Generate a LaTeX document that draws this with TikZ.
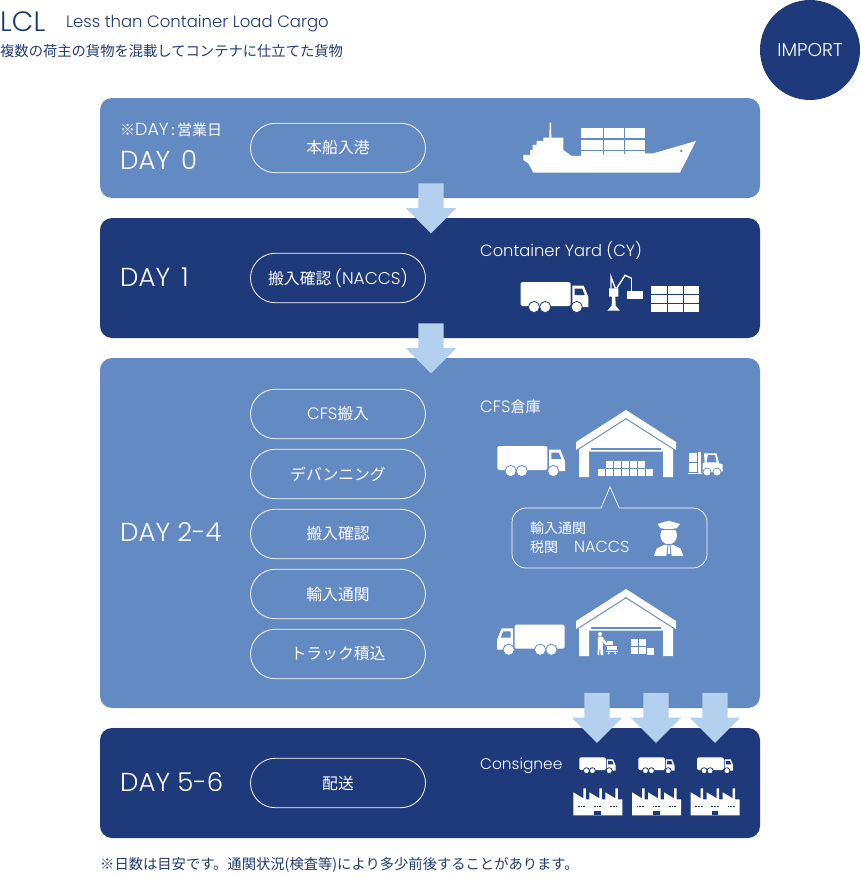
\documentclass[tikz,border=0pt]{standalone}
\usepackage{fontspec}
\setmainfont{Noto Sans CJK JP}
\newfontfamily\latfont{Poppins}[UprightFont=* Light]
\usetikzlibrary{shapes.arrows}
\definecolor{midblue}{HTML}{648AC4}
\definecolor{navyband}{HTML}{1E3A7A}
\definecolor{paleblue}{HTML}{B3D0EE}
\definecolor{titleblue}{HTML}{1F3A73}
\newcommand{\fs}[1]{\fontsize{#1}{#1}\selectfont}
\newcommand{\lat}[2]{{\fs{#1}\latfont #2}}
\tikzset{
  panel/.style={fill=#1,rounded corners=12,minimum width=660,inner sep=0},
  pill/.style={draw=white,line width=.8,rounded corners=24.9,minimum width=175,minimum height=49.5,inner sep=0,text=white,font=\fs{15.8}},
  lbl/.style={inner sep=0,anchor=west,text=white},
  daylbl/.style={lbl,font=\fs{26}\latfont},
  blockarrow/.style={single arrow,fill=paleblue,inner sep=12.5,shape border rotate=270,minimum width=50,minimum height=50,single arrow head extend=12.5,single arrow tip angle=90},
  pics/truck/.style={code={
    \fill[white,rounded corners=1.5] (0,0) rectangle (50,24);
    \fill[white] (51.7,3.7) -- (63,3.7) -- (67.7,15) -- (67.7,25) -- (51.7,25) -- cycle;
    \fill[#1] (54,6.7) -- (61.5,6.7) -- (64,13) -- (54,13) -- cycle;
    \filldraw[white,draw=#1,line width=.8] (13.3,25) circle[radius=5.6];
    \filldraw[white,draw=#1,line width=.8] (24.5,25) circle[radius=5.6];
    \filldraw[white,draw=#1,line width=.8] (56,25) circle[radius=5.6];
  }},
  pics/warehouse/.style={code={
    \fill[white] (0,0) -- (50,32) -- (50,40) -- (0,8) -- (-50,40) -- (-50,32) -- cycle;
    \fill[white] (0,9.5) -- (47,39.5) -- (47,67) -- (37,67) -- (37,41.5) -- (-37,41.5) -- (-37,67) -- (-47,67) -- (-47,39.5) -- cycle;
    \fill[midblue] (-35,38) rectangle (35,39.5);
  }},
  pics/factory/.style={code={
    \fill[white] (0,4) -- (10,10) -- (10,0) -- (12.5,0) -- (12.5,11) -- (16,11) -- (16,4) -- (26,10) -- (26,0) -- (28.5,0) -- (28.5,11) -- (32,11) -- (32,4) -- (42,10) -- (42,0) -- (44.5,0) -- (44.5,11) -- (49,11) -- (49,27) -- (0,27) -- cycle;
    \fill[navyband] (21,22.5) rectangle (27.5,27);
    \foreach \wx in {4.5,7.2,9.9,20.5,23.2,25.9,36.8,39.5,42.2}
      \fill[navyband] (\wx,17.2) rectangle ++(1.9,1.9);
  }},
}
\begin{document}
\begin{tikzpicture}[x=1pt,y=-1pt]
  \useasboundingbox (0,0) rectangle (860,878);

  % headings
  \node[lbl,text=titleblue,font=\fs{28}\latfont] (lcl) at (0,22) {LCL};
  \node[lbl,text=titleblue,font=\fs{16.5}\latfont] (lclfull) at (66,24) {Less than Container Load Cargo};
  \node[lbl,text=titleblue,font=\fs{14.3}] (lcljp) at (0,51) {複数の荷主の貨物を混載してコンテナに仕立てた貨物};
  \node[circle,fill=navyband,minimum size=100,inner sep=0,text=white,font=\fs{18.5}\latfont] (importbadge) at (810,50) {IMPORT};

  % bands
  \node[panel=midblue,minimum height=100] (day0) at (430,148) {};
  \node[panel=navyband,minimum height=120] (day1) at (430,278) {};
  \node[panel=midblue,minimum height=350] (day24) at (430,533) {};
  \node[panel=navyband,minimum height=110] (day56) at (430,783) {};

  % block arrows
  \node[blockarrow] (arrow0) at (431,202) {};
  \node[blockarrow] (arrow1) at (431,342) {};
  \node[blockarrow] (arrow2a) at (597,711.5) {};
  \node[blockarrow] (arrow2b) at (656,711.5) {};
  \node[blockarrow] (arrow2c) at (715,711.5) {};

  % day labels
  \node[lbl,font=\fs{15}] (dayn) at (120,130) {※\lat{17.5}{DAY}\hspace{2pt}:\hspace{2pt}営業日};
  \node[daylbl] (d0) at (120,160) {DAY\hspace{11pt}0};
  \node[daylbl] (d1) at (120,277) {DAY\hspace{11pt}1};
  \node[daylbl] (d24) at (120,532) {DAY 2-4};
  \node[daylbl] (d56) at (120,782) {DAY 5-6};

  % steps
  \node[pill] (berth) at (338,148) {本船入港};
  \node[pill] (naccs) at (338,278) {搬入確認 \lat{17}{(NACCS)}};
  \node[pill] (cfsin) at (338,414) {\lat{16.5}{CFS}搬入};
  \node[pill] (devan) at (338,474) {デバンニング};
  \node[pill] (check) at (338,534) {搬入確認};
  \node[pill] (clear) at (338,594) {輸入通関};
  \node[pill] (load) at (338,654) {トラック積込};
  \node[pill] (deliver) at (338,783) {配送};

  % place labels
  \node[lbl,font=\fs{16.3}\latfont] (cy) at (480,250) {Container Yard (CY)};
  \node[lbl,font=\fs{15}] (cfs) at (480,407) {\lat{16.5}{CFS}倉庫};
  \node[lbl,font=\fs{15.4}\latfont] (consignee) at (480,766) {Consignee};
  \node[lbl,font=\fs{14}] (clearjp) at (530,528) {輸入通関};
  \node[lbl,font=\fs{14}] (customs) at (530,547) {税関\hspace{16pt}\lat{16}{NACCS}};
  \node[lbl,text=titleblue,font=\fs{14.3}] (note) at (100,865) {※日数は目安です。通関状況(検査等)により多少前後することがあります。};

  % speech bubble
  \draw[white,line width=.7] (601,508) -- (610,487) -- (619.3,508) [rounded corners=14] -- (707,508) -- (707,568) -- (512,568) -- (512,508) -- (601,508);

  % ship
  \begin{scope}[shift={(480,100)},x=.3333pt,y=-.3333pt]
    \fill[white] (209,68) -- (213,68) -- (214,113) -- (250,113) -- (250,150) -- (275,168) -- (303,168) -- (495,160) -- (520,160) -- (648,123) -- (600,218) -- (160,218) -- (145,190) -- (130,180) -- (130,165) -- (150,165) -- (150,150) -- (158,150) -- (158,135) -- (170,135) -- (170,123) -- (190,123) -- (190,113) -- (208,113) -- cycle;
    \foreach \cx/\cw in {304/64,371/60,434/61}
      \foreach \cy/\ch in {83/32,119/31,153/14}
        \fill[white] (\cx,\cy) rectangle ++(\cw,\ch);
    \fill[midblue] (604,153) circle[radius=4];
  \end{scope}

  % container yard
  \pic at (520.7,282) {truck=navyband};
  \begin{scope}[shift={(600,265)},x=.3333pt,y=-.3333pt]
    \fill[white] (22,137) -- (60,137) -- (47,122) -- (46,95) -- (55,95) -- (55,70) -- (27,70) -- (27,95) -- (36,95) -- (35,122) -- cycle;
    \draw[white,line width=1.4] (33,70) -- (33,36) -- (46,70);
    \draw[white,line width=1.4] (50,70) -- (75,31) -- (95,40);
    \draw[white,line width=.7] (93,38) -- (93,78);
    \fill[white] (82,78) rectangle (130,102);
    \foreach \cx in {153,203,251}
      \foreach \cy in {62,90,117}
        \fill[white] (\cx,\cy) rectangle ++(47,25);
  \end{scope}

  % cfs warehouse, inbound
  \pic at (497.3,446) {truck=midblue};
  \pic at (626,410) {warehouse};
  \foreach \bx in {606,614,622,630,638}
    \fill[white] (\bx,461) rectangle ++(7.2,7.2);
  \foreach \bx in {598,606,614,622,630,638,646}
    \fill[white] (\bx,469) rectangle ++(7.2,7.2);
  \begin{scope}[shift={(570,405)},x=.3333pt,y=-.3333pt]
    \fill[white] (358,145) rectangle (382,172);
    \fill[white] (358,175) rectangle (382,200);
    \fill[white] (385,140) rectangle (392,203);
    \fill[white] (355,203) rectangle (395,207);
    \fill[white] (402,145) -- (440,145) -- (447,175) -- (458,178) -- (458,200) -- (398,203) -- (398,175) -- (404,172) -- cycle;
    \fill[midblue] (414,150) -- (435,150) -- (440,172) -- (410,172) -- cycle;
    \filldraw[white,draw=midblue,line width=.7] (411,201) circle[radius=12];
    \filldraw[white,draw=midblue,line width=.7] (441,201) circle[radius=12];
  \end{scope}

  % officer
  \begin{scope}[shift={(480,390)},x=.3333pt,y=-.3333pt]
    \fill[white] (533,402) -- (566,392) -- (600,402) -- (590,415) -- (542,415) -- cycle;
    \fill[white] (566,436) ellipse[x radius=25,y radius=27];
    \fill[white] (522,498) -- (530,476) -- (552,465) -- (580,465) -- (602,476) -- (610,498) -- cycle;
    \fill[midblue] (563,462) -- (571,462) -- (575,498) -- (559,498) -- cycle;
    \fill[white] (565,466) -- (569,466) -- (571,492) -- (563,492) -- cycle;
    \fill[midblue] (533,416) rectangle (600,419);
  \end{scope}

  % cfs warehouse, outbound
  \pic[xscale=-1] at (564.7,624.7) {truck=midblue};
  \pic at (626,589) {warehouse};
  \begin{scope}[shift={(570,585)},x=.3333pt,y=-.3333pt]
    \fill[white] (90,147) circle[radius=6];
    \fill[white] (84,155) -- (97,155) -- (113,178) -- (108,182) -- (98,170) -- (100,210) -- (92,210) -- (90,185) -- (87,210) -- (83,210) -- cycle;
    \fill[white] (112,167) rectangle (128,180);
    \fill[white] (112,182) rectangle (142,196);
    \fill[white] (108,198) rectangle (144,201);
    \fill[white] (116,205) circle[radius=3.5];
    \fill[white] (136,205) circle[radius=3.5];
    \foreach \cx in {182,206}
      \foreach \cy in {163,187}
        \fill[white] (\cx,\cy) rectangle ++(21,21);
    \fill[white] (231,190) rectangle (252,209);
  \end{scope}

  % consignee trucks and factories
  \foreach \tx/\fx in {579.3/573.3,638.3/632,697/690.7}{
    \pic[scale=.535] at (\tx,757.3) {truck=navyband};
    \pic at (\fx,788.3) {factory};
  }
\end{tikzpicture}
\end{document}
